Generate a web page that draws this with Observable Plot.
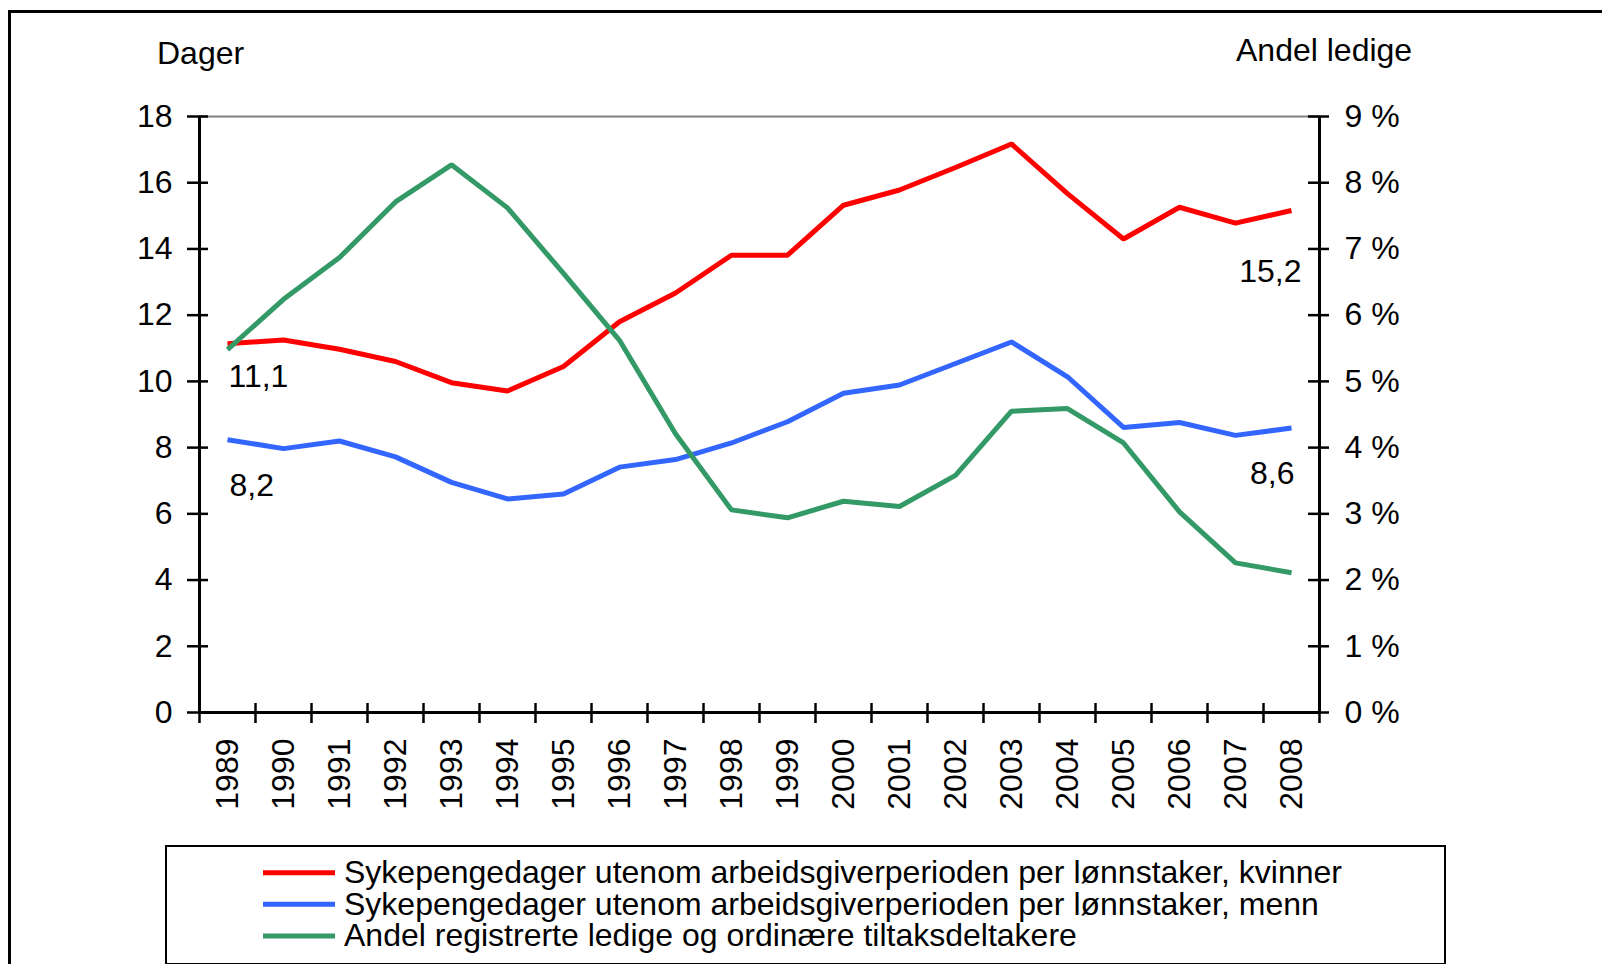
<!DOCTYPE html>
<html><head><meta charset="utf-8">
<script src="https://cdn.jsdelivr.net/npm/d3@7"></script>
<script src="https://cdn.jsdelivr.net/npm/@observablehq/plot@0.6"></script>
<style>
html,body{margin:0;padding:0;background:#fff;}
#wrap{position:relative;width:1602px;height:964px;overflow:hidden;font-family:"Liberation Sans",Arial,sans-serif;color:#000;background:#fff;}
#chart{position:absolute;left:0;top:0;}
.frame{position:absolute;left:8px;top:10px;width:1700px;height:1100px;border:3px solid #000;box-sizing:border-box;}
.title{position:absolute;font-size:32px;line-height:32px;white-space:nowrap;}
#legend{position:absolute;left:165px;top:845px;width:1281px;height:120px;border:2px solid #000;box-sizing:border-box;background:#fff;}
</style></head><body>
<div id="wrap">
  <div class="frame"></div>
  <div id="chart"></div>
  <div class="title" id="tl" style="left:157px;top:37px;">Dager</div>
  <div class="title" id="tr" style="left:1236px;top:34px;">Andel ledige</div>
  <div id="legend"></div>
</div>
<script>
// ---- data ----
const years = [1989,1990,1991,1992,1993,1994,1995,1996,1997,1998,1999,2000,2001,2002,2003,2004,2005,2006,2007,2008];
const kvinner = [11.14,11.25,10.97,10.60,9.96,9.71,10.45,11.80,12.67,13.81,13.81,15.32,15.78,16.46,17.17,15.67,14.30,15.26,14.78,15.16];
const menn = [8.24,7.97,8.20,7.72,6.95,6.45,6.60,7.41,7.64,8.14,8.78,9.64,9.89,10.54,11.19,10.14,8.61,8.76,8.37,8.59];
const ledigePct = [5.48,6.24,6.87,7.71,8.27,7.62,6.63,5.62,4.21,3.06,2.94,3.19,3.11,3.58,4.55,4.59,4.07,3.03,2.26,2.11];
const leftTicks = [0,2,4,6,8,10,12,14,16,18];
const rightTickLabels = ["0 %","1 %","2 %","3 %","4 %","5 %","6 %","7 %","8 %","9 %"];
const seriesNames = [
  "Sykepengedager utenom arbeidsgiverperioden per lønnstaker, kvinner",
  "Sykepengedager utenom arbeidsgiverperioden per lønnstaker, menn",
  "Andel registrerte ledige og ordinære tiltaksdeltakere"
];
const seriesColors = ["#FF0000","#3366FF","#339966"];
const leftTitle = "Dager";
const rightTitle = "Andel ledige";

// right axis: 9 % corresponds to 18 dager
const pctFactor = 18 / 9;

const toRows = vals => years.map((yr, i) => ({year: yr, v: vals[i]}));
const rowsK = toRows(kvinner);
const rowsM = toRows(menn);
const rowsL = toRows(ledigePct.map(p => p * pctFactor));
const bounds = years.map(y => y - 0.5).concat([years[years.length - 1] + 0.5]);
const fmt = v => d3.format(".1f")(v).replace(".", ",");
const first = r => [r[0]];
const last = r => [r[r.length - 1]];

const lineOpts = {x: "year", y: "v", strokeWidth: 5, strokeLinejoin: "miter", strokeLinecap: "butt"};
const labelOpts = {x: "year", y: "v", text: d => fmt(d.v), lineAnchor: "bottom", fontSize: 32, fill: "#000"};

const chart = Plot.plot({
  width: 1602, height: 964,
  marginLeft: 199, marginRight: 283, marginTop: 116, marginBottom: 252,
  x: {domain: [bounds[0], bounds[bounds.length - 1]]},
  y: {domain: [0, 18]},
  style: {fontFamily: "'Liberation Sans', Arial, sans-serif", fontSize: "32px", background: "transparent", color: "#000", overflow: "visible"},
  marks: [
    Plot.ruleY([leftTicks[leftTicks.length - 1]], {stroke: "#808080", strokeWidth: 2}),
    Plot.line(rowsK, {...lineOpts, stroke: seriesColors[0]}),
    Plot.line(rowsM, {...lineOpts, stroke: seriesColors[1]}),
    Plot.line(rowsL, {...lineOpts, stroke: seriesColors[2]}),
    Plot.ruleX([bounds[0], bounds[bounds.length - 1]], {stroke: "#000", strokeWidth: 3}),
    Plot.ruleY([0], {stroke: "#000", strokeWidth: 3}),
    // tick marks crossing the axes
    Plot.axisX({ticks: bounds, anchor: "bottom", tickSize: 20, dy: -9, tickFormat: () => "", strokeWidth: 2.5, label: null}),
    Plot.axisX({ticks: years, anchor: "bottom", tickSize: 0, tickPadding: 26, tickRotate: -90, tickFormat: d => String(d), fontSize: 32, label: null}),
    Plot.axisY({ticks: leftTicks, anchor: "left", tickSize: 21, dx: 9, tickFormat: () => "", strokeWidth: 2.5, label: null}),
    Plot.axisY({ticks: leftTicks, anchor: "left", tickSize: 0, tickPadding: 27, fontSize: 32, label: null}),
    Plot.axisY({ticks: leftTicks, anchor: "right", tickSize: 21, dx: -12, tickFormat: () => "", strokeWidth: 2.5, label: null}),
    Plot.axisY({ticks: leftTicks, anchor: "right", tickSize: 0, tickPadding: 25, tickFormat: d => rightTickLabels[leftTicks.indexOf(d)], fontSize: 32, label: null}),
    // end-value labels
    Plot.text(first(rowsK), {...labelOpts, textAnchor: "start", dx: 1, dy: 43}),
    Plot.text(first(rowsM), {...labelOpts, textAnchor: "start", dx: 2, dy: 56}),
    Plot.text(last(rowsK), {...labelOpts, textAnchor: "end", dx: 10, dy: 71}),
    Plot.text(last(rowsM), {...labelOpts, textAnchor: "end", dx: 3, dy: 56})
  ]
});
document.getElementById("chart").appendChild(chart);
document.getElementById("tl").textContent = leftTitle;
document.getElementById("tr").textContent = rightTitle;

// ---- legend ----
const lg = d3.select("#legend").append("svg")
  .attr("width", 1277).attr("height", 116)
  .style("position", "absolute").style("left", "0").style("top", "0")
  .style("font-family", "'Liberation Sans', Arial, sans-serif").style("font-size", "32px");
const rowStep = 31.6;
seriesNames.forEach((name, i) => {
  const g = lg.append("g").attr("transform", `translate(0,${25.7 + i * rowStep})`);
  g.append("line").attr("x1", 96).attr("x2", 168).attr("y1", 0).attr("y2", 0)
    .attr("stroke", seriesColors[i]).attr("stroke-width", 5);
  g.append("text").attr("x", 177).attr("y", 10.5).attr("fill", "#000").text(name);
});
</script>
</body></html>
